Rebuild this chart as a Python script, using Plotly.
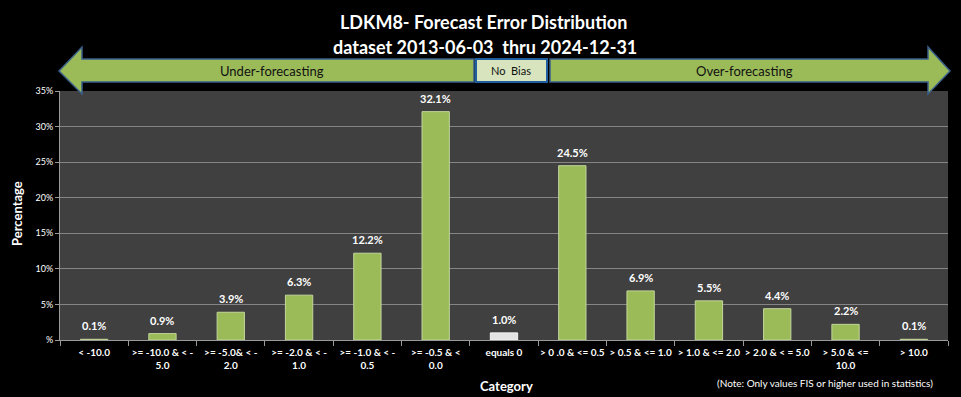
import plotly.graph_objects as go

categories = ["< -10.0", ">= -10.0 & < -<br>5.0", ">= -5.0& < -<br>2.0", ">= -2.0 & < -<br>1.0",
              ">= -1.0 & < -<br>0.5", ">= -0.5 & <<br>0.0", "equals 0", "> 0 .0 & <= 0.5",
              "> 0.5 & <= 1.0", "> 1.0 & <= 2.0", "> 2.0 & < = 5.0", "> 5.0 & <=<br>10.0", "> 10.0"]
values = [0.1, 0.9, 3.9, 6.3, 12.2, 32.1, 1.0, 24.5, 6.9, 5.5, 4.4, 2.2, 0.1]
labels = ["0.1%", "0.9%", "3.9%", "6.3%", "12.2%", "32.1%", "1.0%", "24.5%", "6.9%", "5.5%", "4.4%", "2.2%", "0.1%"]
ytick_vals = [0, 5, 10, 15, 20, 25, 30, 35]
ytick_text = ["%", "5%", "10%", "15%", "20%", "25%", "30%", "35%"]

W, H = 961, 397
L, R, T, B = 60, 13, 91, 57
PW, PH = W - L - R, H - T - B

def px(x):
    return (x - L) / PW

def py(y):
    return (H - B - y) / PH

FONT = "Lato, 'Open Sans', sans-serif"
GREEN = "#9bbb59"
colors = [GREEN] * len(values)
colors[6] = "#e4e4e4"
line_colors = ["#c3d69b"] * len(values)
line_colors[6] = "#f4f4f4"

fig = go.Figure()
fig.add_trace(go.Bar(
    x=categories, y=values,
    marker=dict(color=colors, line=dict(color=line_colors, width=1)),
    hoverinfo="skip",
))

annotations = []
for c, v, t in zip(categories, values, labels):
    annotations.append(dict(x=c, y=v, xref="x", yref="y", text="<b>%s</b>" % t, showarrow=False,
                            xanchor="center", yanchor="bottom", yshift=5,
                            font=dict(family=FONT, size=11, color="white")))

def poly(points):
    return "M " + " L ".join("%f %f" % (px(x), py(y)) for x, y in points) + " Z"

left_arrow = [(59, 71), (82, 47), (82, 59), (474, 59), (474, 82), (82, 82), (82, 94)]
right_arrow = [(950, 71), (928, 47), (928, 59), (550, 59), (550, 82), (928, 82), (928, 94)]
shapes = [
    dict(type="path", path=poly(left_arrow), xref="paper", yref="paper",
         fillcolor=GREEN, line=dict(color="#3a5f8a", width=1.5), layer="above"),
    dict(type="path", path=poly(right_arrow), xref="paper", yref="paper",
         fillcolor=GREEN, line=dict(color="#3a5f8a", width=1.5), layer="above"),
    dict(type="rect", x0=px(476), x1=px(547), y0=py(59), y1=py(82), xref="paper", yref="paper",
         fillcolor="#d7e4bd", line=dict(color="#1f5fa0", width=2), layer="above"),
]

def txt(x, y, text, size, color="white", angle=0):
    return dict(x=px(x), y=py(y), xref="paper", yref="paper", text=text, showarrow=False,
                xanchor="center", yanchor="middle", textangle=angle,
                font=dict(family=FONT, size=size, color=color))

annotations += [
    txt(272, 71, "Under-forecasting", 13, "#111111"),
    txt(744, 71, "Over-forecasting", 13, "#111111"),
    txt(511, 71, "No  Bias", 11, "#111111"),
    txt(483, 22, "<b>LDKM8- Forecast Error Distribution</b>", 18),
    txt(485, 47, "<b>dataset 2013-06-03  thru 2024-12-31</b>", 18),
    txt(506, 386, "<b>Category</b>", 13),
    txt(17, 214, "<b>Percentage</b>", 13, angle=-90),
    txt(825, 383, "(Note: Only values FIS or higher used in statistics)", 10),
]

fig.update_layout(
    width=W, height=H,
    margin=dict(l=L, r=R, t=T, b=B),
    paper_bgcolor="black", plot_bgcolor="#404040",
    bargap=0.6, showlegend=False,
    shapes=shapes, annotations=annotations,
    xaxis=dict(type="category", tickson="boundaries", ticks="outside", ticklen=5, tickcolor="#9a9a9a",
               tickvals=categories, ticktext=["<b>%s</b>" % c for c in categories],
               ticklabelstandoff=3,
               showline=True, linecolor="#9a9a9a", showgrid=False,
               tickfont=dict(family=FONT, size=10, color="white"), tickangle=0),
    yaxis=dict(range=[0, 35], tickvals=ytick_vals, ticktext=ytick_text, ticks="outside", ticklen=4,
               tickcolor="#9a9a9a", showline=True, linecolor="#9a9a9a", gridcolor="#858585", gridwidth=1,
               zeroline=False, tickfont=dict(family=FONT, size=9, color="white")),
)

fig.write_html("out.html", config={"displayModeBar": False})
with open("out.html", encoding="utf-8") as f:
    html = f.read()
html = html.replace("<body>", '<body style="margin:0;padding:0;background:black;">', 1)
with open("out.html", "w", encoding="utf-8") as f:
    f.write(html)
